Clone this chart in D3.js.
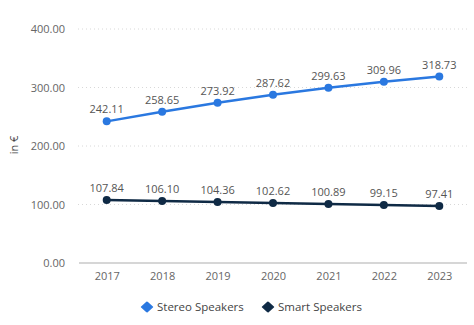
<!DOCTYPE html>
<html><head><meta charset="utf-8">
<script src="https://cdn.jsdelivr.net/npm/d3@7"></script>
<style>
html,body{margin:0;padding:0;background:#fff;}
svg{display:block;font-family:"Open Sans",sans-serif;}
</style></head>
<body><svg id="c" width="474" height="325"></svg>
<script>
const years = ["2017","2018","2019","2020","2021","2022","2023"];
const stereo = [242.11,258.65,273.92,287.62,299.63,309.96,318.73];
const smart = [107.84,106.10,104.36,102.62,100.89,99.15,97.41];
const yTicks = [0,100,200,300,400];
const seriesNames = ["Stereo Speakers","Smart Speakers"];
const colors = ["#2a78e0","#0f2a45"];

const svg = d3.select("#c");
const x = d3.scalePoint().domain(years).range([79,467]).padding(0.5);
const y = d3.scaleLinear().domain([0,400]).range([263,29]);

// grid
svg.append("g").selectAll("line").data(yTicks.filter(d=>d>0)).join("line")
  .attr("x1",78).attr("x2",467).attr("y1",d=>y(d)).attr("y2",d=>y(d))
  .attr("stroke","#d8d8d8").attr("stroke-width",1).attr("stroke-dasharray","1,3");
svg.append("line").attr("x1",79).attr("x2",467).attr("y1",y(0)).attr("y2",y(0))
  .attr("stroke","#c8c8c8").attr("stroke-width",1.5);

// y axis labels
const ya = svg.append("g").attr("transform","translate(65,0)")
  .call(d3.axisLeft(y).tickValues(yTicks).tickFormat(d3.format(".2f")).tickSize(0).tickPadding(0));
ya.select(".domain").remove();
ya.selectAll("text").attr("fill","#666").attr("font-size","11px").attr("font-family","'Open Sans',sans-serif");

// x axis labels
const xa = svg.append("g").attr("transform",`translate(0,${y(0)})`)
  .call(d3.axisBottom(x).tickSize(0).tickPadding(9));
xa.select(".domain").remove();
xa.selectAll("text").attr("fill","#666").attr("font-size","11px").attr("font-family","'Open Sans',sans-serif");

// y title
svg.append("text").attr("transform","translate(18,145) rotate(-90)")
  .attr("text-anchor","middle").attr("fill","#444").attr("font-size","11px").text("in €");

const data = [stereo, smart];
data.forEach((vals,i)=>{
  const pts = years.map((yr,j)=>[yr,vals[j]]);
  svg.append("path").datum(pts)
    .attr("fill","none").attr("stroke",colors[i]).attr("stroke-width",2.5)
    .attr("d",d3.line().x(d=>x(d[0])).y(d=>y(d[1])));
  svg.append("g").selectAll("circle").data(pts).join("circle")
    .attr("cx",d=>x(d[0])).attr("cy",d=>y(d[1])).attr("r",4).attr("fill",colors[i]);
  svg.append("g").selectAll("text").data(pts).join("text")
    .attr("x",d=>x(d[0])).attr("y",d=>y(d[1])-8)
    .attr("text-anchor","middle").attr("fill","#555").attr("font-size","11px")
    .text(d=>d[1].toFixed(2));
});

// legend
const legX = [147,268];
seriesNames.forEach((n,i)=>{
  const g = svg.append("g").attr("transform",`translate(${legX[i]},307)`);
  g.append("path").attr("d",d3.symbol(d3.symbolDiamond,40)()).attr("transform","scale(1.6,0.85)")
    .attr("fill",colors[i]).attr("stroke",colors[i]).attr("stroke-width",1).attr("stroke-linejoin","round");
  g.append("text").attr("x",10).attr("y",4).attr("fill","#444").attr("font-size","11.5px").text(n);
});
</script></body></html>
